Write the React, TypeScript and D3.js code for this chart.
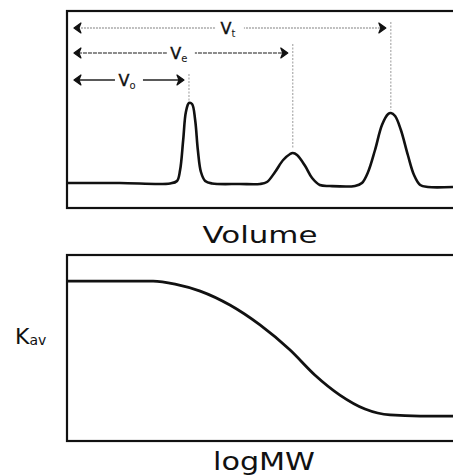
import React from "react";
import * as d3 from "d3";

// Chromatogram (top panel): elution volume (arbitrary units) vs detector signal
const volume = [0, 13.7, 26.7, 28.5, 29.3, 30.1, 30.8, 31.6, 32.4, 33.2, 33.9, 34.7, 35.8, 37.6, 44.8, 50, 51.8, 53.9, 56, 57.8, 58.5, 59.6, 61.7, 63.5, 65.5, 68.1, 74.6, 76.4, 78, 79.8, 81.6, 83.2, 83.9, 85, 86.5, 88.3, 89.9, 91.5, 93.5, 100];
const signal = [0, 0, -0.5, 2, 13, 43, 71, 80, 79, 63, 33, 11, 2, -0.5, -1, -1, 1, 11, 23, 29, 30, 28, 17, 5, -2, -3, -3, 0, 11, 33, 58, 69, 70, 67, 53, 28, 8, -2, -4, -4];

// Markers (Vo, Ve, Vt)
const markerNames = ["o", "e", "t"];
const markerVolumes = [31.6, 58.5, 83.9];
const markerSignals = [82, 34, 73];

// Calibration curve (bottom panel)
const logMW = [0, 22.3, 28, 34.5, 42.2, 50, 57.8, 64.2, 70.7, 77.2, 83.7, 91.5, 100];
const kav = [0.86, 0.86, 0.844, 0.806, 0.731, 0.624, 0.489, 0.355, 0.247, 0.172, 0.14, 0.134, 0.134];

const W = 453;
const H = 475;
const left = 67;
const font = "'DejaVu Sans', Verdana, sans-serif";

export default function App() {
  const x = d3.scaleLinear().domain([0, 100]).range([left, 453]);
  // top panel
  const top1 = 11, bot1 = 208;
  const y1 = d3.scaleLinear().domain([0, 100]).range([183, 83]);
  const chromPts = volume.map((v, i) => [v, signal[i]] as [number, number]);
  const chromLine = d3
    .line<[number, number]>()
    .x((d) => x(d[0]))
    .y((d) => y1(d[1]))
    .curve(d3.curveCatmullRom.alpha(0.5));

  // bottom panel
  const top2 = 255, bot2 = 441;
  const y2 = d3.scaleLinear().domain([0, 1]).range([bot2, top2]);
  const calPts = logMW.map((v, i) => [v, kav[i]] as [number, number]);
  const calLine = d3
    .line<[number, number]>()
    .x((d) => x(d[0]))
    .y((d) => y2(d[1]))
    .curve(d3.curveMonotoneX);

  const arrowY = [80, 53, 28];
  const vTop = [74, 44, 22];
  const lineColor = ["#222", "#666", "#aaa"];
  const dash = ["none", "4,1", "2,1"];
  const arrowStart = x(1.8);

  return (
    <svg
      width={W}
      height={H}
      style={{ position: "absolute", left: 0, top: 0, background: "#fff" }}
    >
      <rect x={0} y={0} width={W} height={H} fill="#fff" />
      {/* top frame */}
      <rect x={left} y={top1} width={420} height={bot1 - top1} fill="none" stroke="#111" strokeWidth={2.2} />
      {/* markers */}
      {markerNames.map((n, i) => {
        const xm = x(markerVolumes[i]);
        const ya = arrowY[i];
        const xe = xm - 5;
        const mid = (arrowStart + xe) / 2;
        return (
          <g key={n}>
            <line x1={xm} x2={xm} y1={vTop[i]} y2={y1(markerSignals[i])} stroke="#999" strokeWidth={1} strokeDasharray="2,1.5" />
            <line x1={arrowStart + 4} x2={xe - 4} y1={ya} y2={ya} stroke={lineColor[i]} strokeWidth={1.5} strokeDasharray={dash[i]} />
            <path d={`M${arrowStart},${ya} L${arrowStart + 7},${ya - 5} L${arrowStart + 5},${ya} L${arrowStart + 7},${ya + 5} Z`} fill="#111" stroke="#111" strokeWidth={1.2} strokeLinejoin="round" />
            <path d={`M${xe},${ya} L${xe - 7},${ya - 5} L${xe - 5},${ya} L${xe - 7},${ya + 5} Z`} fill="#111" stroke="#111" strokeWidth={1.2} strokeLinejoin="round" />
            <rect x={mid - 14} y={ya - 9} width={28} height={18} fill="#fff" />
            <text x={mid - 2} y={ya + 6} textAnchor="middle" fontFamily={font} fontSize={16} fill="#111" stroke="#111" strokeWidth={0.4}>
              V<tspan fontSize={10} strokeWidth={0} dy={3}>{n}</tspan>
            </text>
          </g>
        );
      })}
      <path d={chromLine(chromPts) || ""} fill="none" stroke="#111" strokeWidth={2.6} strokeLinejoin="round" />
      <text x={260} y={243} textAnchor="middle" fontFamily={font} fontSize={23} fill="#111" textLength={115} lengthAdjust="spacingAndGlyphs">
        Volume
      </text>

      {/* bottom frame */}
      <rect x={left} y={top2} width={420} height={bot2 - top2} fill="none" stroke="#111" strokeWidth={2.2} />
      <path d={calLine(calPts) || ""} fill="none" stroke="#111" strokeWidth={2.8} strokeLinejoin="round" />
      <text x={15} y={344} fontFamily={font} fontSize={22} fill="#111">
        K<tspan fontSize={14} dy={1}>av</tspan>
      </text>
      <text x={264} y={470} textAnchor="middle" fontFamily={font} fontSize={24} fill="#111" textLength={102} lengthAdjust="spacingAndGlyphs">
        logMW
      </text>
    </svg>
  );
}
